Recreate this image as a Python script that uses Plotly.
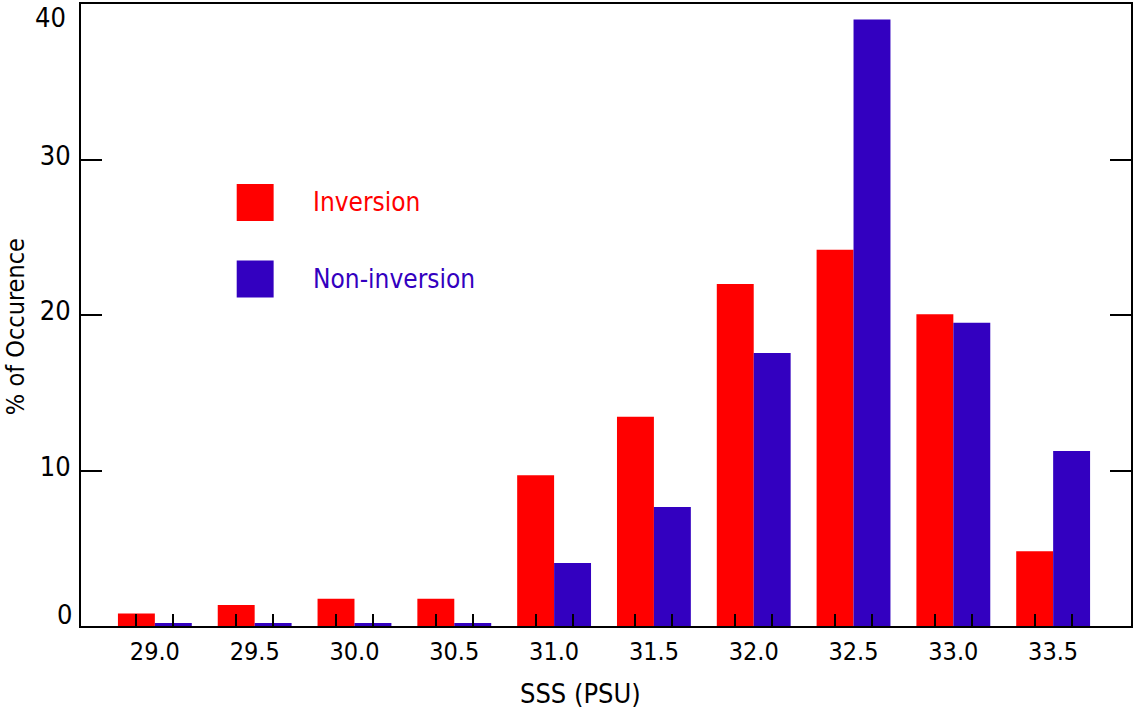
import plotly.graph_objects as go

# Sea-surface salinity bins (PSU) and percentage of occurrence per bin
sss_bins = [29.0, 29.5, 30.0, 30.5, 31.0, 31.5, 32.0, 32.5, 33.0, 33.5]
inversion = [0.8, 1.35, 1.75, 1.75, 9.7, 13.45, 22.0, 24.2, 20.05, 4.8]
non_inversion = [0.2, 0.2, 0.2, 0.2, 4.05, 7.65, 17.55, 39.0, 19.5, 11.25]
tick_labels = ["29.0", "29.5", "30.0", "30.5", "31.0", "31.5", "32.0", "32.5", "33.0", "33.5"]
y_ticks = [0, 10, 20, 30, 40]

RED = "#FF0000"
BLUE = "#3300C0"
FONT = "DejaVu Sans Condensed, DejaVu Sans, sans-serif"

# plot frame in pixels
L, R, T, B = 81, 1133, 4, 626
PW, PH = R - L, B - T


def px(xp):
    return (xp - L) / PW


def py(yp):
    return (B - yp) / PH


bin_step = 0.5
bar_gap = 0.26
bar_w = bin_step * (1 - bar_gap) / 2

fig = go.Figure()
fig.add_trace(go.Bar(x=sss_bins, y=inversion, name="Inversion",
                     marker=dict(color=RED, line=dict(width=0))))
fig.add_trace(go.Bar(x=sss_bins, y=non_inversion, name="Non-inversion",
                     marker=dict(color=BLUE, line=dict(width=0))))

# tick marks sit at the centre of each bar
bar_centres = sorted([b - bar_w / 2 for b in sss_bins] + [b + bar_w / 2 for b in sss_bins])

fig.update_layout(
    width=1134, height=709,
    margin=dict(l=L, r=1134 - R, t=T, b=709 - B),
    paper_bgcolor="white", plot_bgcolor="white",
    barmode="group", bargap=bar_gap, bargroupgap=0,
    showlegend=False,
    font=dict(family=FONT, size=24, color="black"),
    xaxis=dict(
        range=[28.63, 33.89],
        tickmode="array", tickvals=sss_bins, ticktext=tick_labels,
        ticks="", ticklabelstandoff=2,
        tickfont=dict(size=25),
        minor=dict(tickmode="array", tickvals=bar_centres, ticks="inside",
                   ticklen=12, tickwidth=2, tickcolor="black", showgrid=False),
        showline=True, linecolor="black", linewidth=2, mirror=True,
        showgrid=False, zeroline=False,
    ),
    yaxis=dict(
        range=[0, 40],
        tickmode="array", tickvals=y_ticks,
        ticktext=["" if v in (0, 40) else str(v) for v in y_ticks],
        ticks="inside", ticklen=21, tickwidth=2, tickcolor="black",
        ticklabelstandoff=3, ticklabelshift=-4,
        tickfont=dict(size=27),
        showline=True, linecolor="black", linewidth=2, mirror="ticks",
        showgrid=False, zeroline=False,
    ),
)

# end labels of the y axis kept inside the frame
for v, shift, xs in ((0, 12, -7), (40, -13, -13)):
    fig.add_annotation(x=0, xref="paper", y=v, yref="y", yshift=shift,
                       xanchor="right", yanchor="middle", xshift=xs,
                       showarrow=False, text=str(v), font=dict(size=27))

# axis titles
fig.add_annotation(xref="paper", yref="paper", x=px(581), y=py(693),
                   xanchor="center", yanchor="middle", showarrow=False,
                   text="SSS (PSU)", font=dict(size=27))
fig.add_annotation(xref="paper", yref="paper", x=px(15), y=py(327),
                   xanchor="center", yanchor="middle", showarrow=False,
                   textangle=-90, text="% of Occurence", font=dict(size=25))

# legend drawn inside the plot area
legend_items = [("Inversion", RED, 202.5), ("Non-inversion", BLUE, 279)]
for label, colour, y_px in legend_items:
    fig.add_shape(type="rect", xref="paper", yref="paper",
                  x0=px(237), x1=px(274),
                  y0=py(y_px + 18.5), y1=py(y_px - 18.5),
                  fillcolor=colour, line=dict(width=0))
    fig.add_annotation(xref="paper", yref="paper", x=px(311), y=py(y_px),
                       xanchor="left", yanchor="middle", showarrow=False,
                       text=label, font=dict(size=26, color=colour))

fig.write_html("out.html")
